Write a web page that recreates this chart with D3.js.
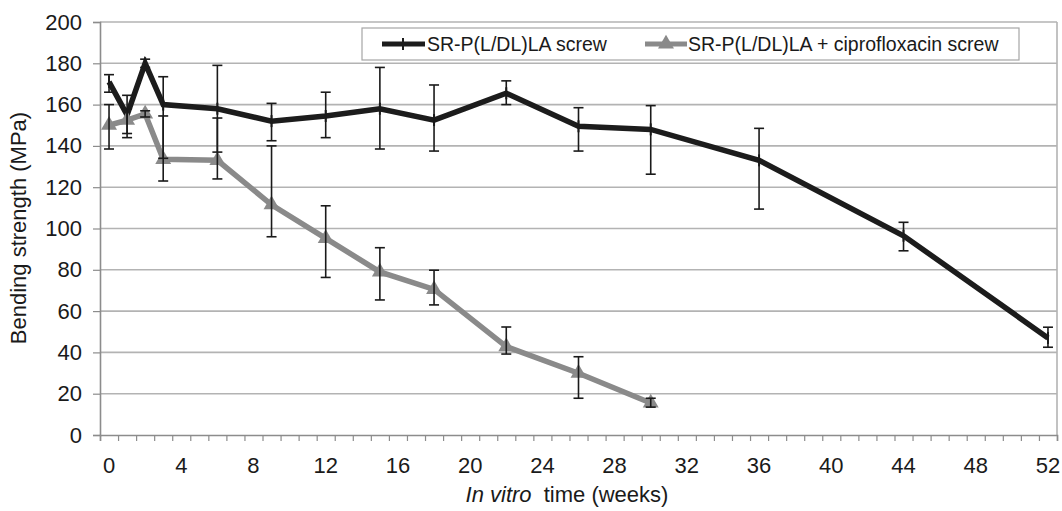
<!DOCTYPE html>
<html>
<head>
<meta charset="utf-8">
<script src="https://cdn.jsdelivr.net/npm/d3@7"></script>
<style>
  body { margin: 0; background: #fff; }
  text { font-family: "Liberation Sans", Arial, sans-serif; fill: #1a1a1a; }
</style>
</head>
<body>
<svg width="1062" height="511"></svg>
<script>
// SR-P(L/DL)LA screw
var weeksA = [0, 1, 2, 3, 6, 9, 12, 15, 18, 22, 26, 30, 36, 44, 52];
var strengthA = [171, 155, 180, 160, 158, 152, 154.5, 158, 152.5, 165.5, 149.5, 148, 133, 96.5, 47];
var upperA = [174.5, 164.5, 182, 173.5, 179, 160.6, 166, 178, 169.5, 171.5, 158.5, 159.5, 148.5, 103, 52.2];
var lowerA = [166, 146, 178, 134, 137, 142.5, 144, 138.5, 137.5, 160, 137.5, 126.3, 109.4, 89.2, 42.5];

// SR-P(L/DL)LA + ciprofloxacin screw
var weeksB = [0, 1, 2, 3, 6, 9, 12, 15, 18, 22, 26, 30];
var strengthB = [150, 152.5, 155.5, 133.5, 133, 111.5, 95.2, 79, 70.5, 42.8, 29.9, 15.5];
var upperB = [160, 158, 157, 154.5, 153.5, 140, 111, 90.7, 79.8, 52.3, 37.9, 17.8];
var lowerB = [138.5, 144, 154, 123, 124, 96, 76.3, 65.4, 63, 39.2, 17.8, 13.5];

var seriesNames = ["SR-P(L/DL)LA screw", "SR-P(L/DL)LA + ciprofloxacin screw"];
var yTicks = [0, 20, 40, 60, 80, 100, 120, 140, 160, 180, 200];
var xTicks = [0, 4, 8, 12, 16, 20, 24, 28, 32, 36, 40, 44, 48, 52];

var svg = d3.select("svg");

var x = d3.scaleLinear().domain([-0.5, 52.5]).range([100, 1057]);
var y = d3.scaleLinear().domain([0, 200]).range([435, 22]);

var gridCol = "#b3b3b3", axisCol = "#8c8c8c";
var blackCol = "#1c1c1c", grayCol = "#8a8a8a";

// gridlines
svg.append("g").selectAll("line")
  .data(yTicks.filter(function(d) { return d > 0; }))
  .enter().append("line")
  .attr("x1", x(-0.5)).attr("x2", x(52.5))
  .attr("y1", function(d) { return y(d); })
  .attr("y2", function(d) { return y(d); })
  .attr("stroke", gridCol).attr("stroke-width", 1.6);

// right border
svg.append("line")
  .attr("x1", x(52.5)).attr("x2", x(52.5))
  .attr("y1", y(200)).attr("y2", y(0))
  .attr("stroke", gridCol).attr("stroke-width", 1.6);

// y axis
var yAxis = d3.axisLeft(y).tickValues(yTicks).tickSize(7).tickPadding(11);
var gy = svg.append("g").attr("transform", "translate(" + x(-0.5) + ",0)").call(yAxis);
gy.select(".domain").attr("stroke", axisCol).attr("stroke-width", 1.6);
gy.selectAll(".tick line").attr("stroke", axisCol).attr("stroke-width", 1.2);
gy.selectAll(".tick text").attr("font-size", 22).attr("fill", "#1a1a1a")
  .attr("font-family", "Liberation Sans, Arial, sans-serif");

// x axis: minor ticks between weeks, labels every 4
var minor = d3.range(-0.5, 53, 1);
var xAxis = d3.axisBottom(x).tickValues(minor).tickSize(6).tickFormat("");
var gx = svg.append("g").attr("transform", "translate(0," + y(0) + ")").call(xAxis);
gx.select(".domain").attr("stroke", axisCol).attr("stroke-width", 1.6);
gx.selectAll(".tick line").attr("stroke", axisCol).attr("stroke-width", 1.2);

svg.append("g").selectAll("text")
  .data(xTicks)
  .enter().append("text")
  .attr("x", function(d) { return x(d); })
  .attr("y", 473)
  .attr("text-anchor", "middle")
  .attr("font-size", 22)
  .text(function(d) { return d; });

// axis titles
svg.append("text")
  .attr("transform", "translate(26," + 228 + ") rotate(-90)")
  .attr("text-anchor", "middle")
  .attr("font-size", 22)
  .text("Bending strength (MPa)");

var xt = svg.append("text")
  .attr("x", 567).attr("y", 502)
  .attr("text-anchor", "middle")
  .attr("font-size", 22);
xt.append("tspan").attr("font-style", "italic").text("In vitro");
xt.append("tspan").attr("dx", 6).text(" time (weeks)");

function rows(w, s, hi, lo) {
  return w.map(function(d, i) { return { w: d, v: s[i], hi: hi[i], lo: lo[i] }; });
}
var dataA = rows(weeksA, strengthA, upperA, lowerA);
var dataB = rows(weeksB, strengthB, upperB, lowerB);

var line = d3.line()
  .x(function(d) { return x(d.w); })
  .y(function(d) { return y(d.v); });

// lines
svg.append("path").datum(dataA)
  .attr("d", line).attr("fill", "none")
  .attr("stroke", blackCol).attr("stroke-width", 5.5).attr("stroke-linejoin", "miter");
svg.append("path").datum(dataB)
  .attr("d", line).attr("fill", "none")
  .attr("stroke", grayCol).attr("stroke-width", 5.5).attr("stroke-linejoin", "miter");

// markers
svg.append("g").selectAll("line")
  .data(dataA)
  .enter().append("line")
  .attr("x1", function(d) { return x(d.w); })
  .attr("x2", function(d) { return x(d.w); })
  .attr("y1", function(d) { return y(d.v) - 6; })
  .attr("y2", function(d) { return y(d.v) + 6; })
  .attr("stroke", blackCol).attr("stroke-width", 2);

var tri = d3.symbol().type(d3.symbolTriangle).size(110);
svg.append("g").selectAll("path")
  .data(dataB)
  .enter().append("path")
  .attr("d", tri)
  .attr("transform", function(d) { return "translate(" + x(d.w) + "," + y(d.v) + ")"; })
  .attr("fill", grayCol);

// error bars
function errorBars(data) {
  var g = svg.append("g").attr("stroke", "#1a1a1a").attr("stroke-width", 1.6);
  data.forEach(function(d) {
    var cx = x(d.w);
    g.append("line").attr("x1", cx).attr("x2", cx).attr("y1", y(d.hi)).attr("y2", y(d.lo));
    g.append("line").attr("x1", cx - 5).attr("x2", cx + 5).attr("y1", y(d.hi)).attr("y2", y(d.hi));
    g.append("line").attr("x1", cx - 5).attr("x2", cx + 5).attr("y1", y(d.lo)).attr("y2", y(d.lo));
  });
}
errorBars(dataA);
errorBars(dataB);

// legend
var lg = svg.append("g");
lg.append("rect")
  .attr("x", 362).attr("y", 28).attr("width", 657).attr("height", 32)
  .attr("fill", "#fff").attr("stroke", "#a6a6a6").attr("stroke-width", 1.2);

lg.append("line").attr("x1", 382).attr("x2", 425).attr("y1", 44).attr("y2", 44)
  .attr("stroke", blackCol).attr("stroke-width", 5);
lg.append("line").attr("x1", 403).attr("x2", 403).attr("y1", 38).attr("y2", 50)
  .attr("stroke", blackCol).attr("stroke-width", 2);
lg.append("text").attr("x", 427).attr("y", 51).attr("font-size", 19.5).text(seriesNames[0]);

lg.append("line").attr("x1", 645).attr("x2", 687).attr("y1", 44).attr("y2", 44)
  .attr("stroke", grayCol).attr("stroke-width", 5);
lg.append("path").attr("d", tri).attr("transform", "translate(666,44)").attr("fill", grayCol);
lg.append("text").attr("x", 688).attr("y", 51).attr("font-size", 19.5).text(seriesNames[1]);
</script>
</body>
</html>
